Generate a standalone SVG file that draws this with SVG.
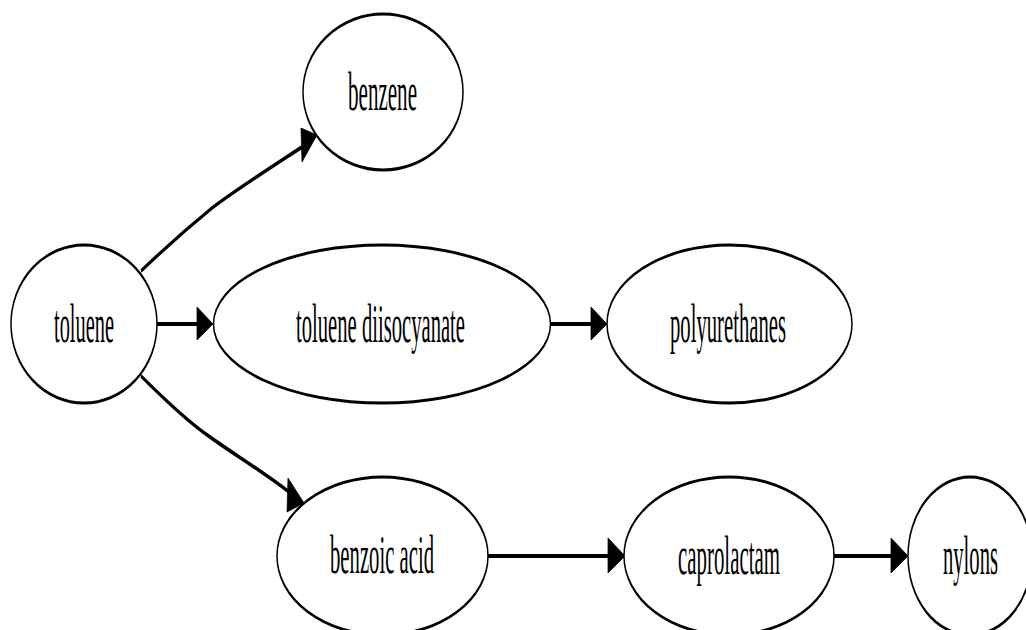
<svg xmlns="http://www.w3.org/2000/svg" width="1026" height="630" viewBox="0 0 1026 630">
<style>
.node ellipse{fill:#fff;stroke:#000;stroke-width:3}
.node text{font-family:"Liberation Serif","Times New Roman",serif;font-size:54px;fill:#000;text-anchor:middle}
.edge path{fill:none;stroke:#000;stroke-width:4}
.edge polygon{fill:#000;stroke:#000;stroke-width:1}
</style>
<rect width="1026" height="630" fill="#fff"/>
<g transform="scale(0.5,1)">
<g id="connectors" class="edge">
<g id="e1"><path d="M282,271 C330,248 380,226 424,208 C474,189 540,168 604,147"/><polygon points="602,128 604,162 634,135"/></g>
<g id="e2"><path d="M282,376 C330,400 376,422 420,437 C470,455 524,471 578,492"/><polygon points="576,478 574,512 608,503"/></g>
<g id="e3"><path d="M314,324 L396,324"/><polygon points="394,307 394,340 426,324"/></g>
<g id="e4"><path d="M1102,324 L1184,324"/><polygon points="1182,307 1182,340 1214,324"/></g>
<g id="e5"><path d="M976,556 L1218,556"/><polygon points="1216,538 1216,573 1250,556"/></g>
<g id="e6"><path d="M1668,556 L1784,556"/><polygon points="1782,538 1782,573 1816,556"/></g>
</g>
<g id="benzene" class="node"><ellipse cx="766" cy="92" rx="160" ry="78"/><text x="765" y="110" textLength="138" lengthAdjust="spacingAndGlyphs">benzene</text></g>
<g id="toluene" class="node"><ellipse cx="168" cy="324" rx="146" ry="79"/><text x="168" y="342" textLength="120" lengthAdjust="spacingAndGlyphs">toluene</text></g>
<g id="toluene_diisocyanate" class="node"><ellipse cx="764" cy="324" rx="337" ry="79"/><text x="761" y="342" textLength="338" lengthAdjust="spacingAndGlyphs">toluene diisocyanate</text></g>
<g id="polyurethanes" class="node"><ellipse cx="1459" cy="324" rx="245" ry="79"/><text x="1456" y="342" textLength="232" lengthAdjust="spacingAndGlyphs">polyurethanes</text></g>
<g id="benzoic_acid" class="node"><ellipse cx="765" cy="556" rx="211" ry="79"/><text x="764" y="573" textLength="208" lengthAdjust="spacingAndGlyphs">benzoic acid</text></g>
<g id="caprolactam" class="node"><ellipse cx="1458" cy="556" rx="210" ry="79"/><text x="1458" y="574" textLength="204" lengthAdjust="spacingAndGlyphs">caprolactam</text></g>
<g id="nylons" class="node"><ellipse cx="1940" cy="556" rx="124" ry="79"/><text x="1941" y="574" textLength="110" lengthAdjust="spacingAndGlyphs">nylons</text></g>
</g>
</svg>
